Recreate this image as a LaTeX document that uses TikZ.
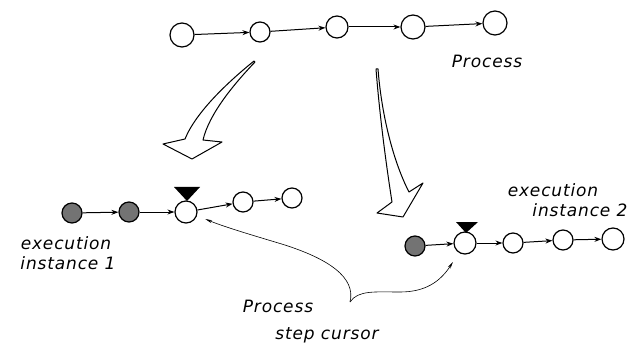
\documentclass[tikz,border=0pt]{standalone}
\usepackage{fontspec}
\newfontfamily\hand[LetterSpace=5]{DejaVu Sans}
\usetikzlibrary{arrows.meta}
\begin{document}
\begin{tikzpicture}[x=1pt,y=-1pt,
  st/.style={circle,draw,line width=1.2pt,inner sep=0pt,fill=white},
  hatched/.style={st,fill=black!55},
  conn/.style={line width=1pt,-{Stealth[length=7pt,width=5pt]}},
  bigarrow/.style={draw,line width=1pt,line join=round,fill=white},
  cursorline/.style={line width=0.6pt,-{Stealth[length=7pt,width=3pt]}},
  lbl/.style={font=\hand\itshape\fontsize{17}{19}\selectfont,inner sep=0pt},
  cursortri/.style={fill=black}]
\useasboundingbox (0,0) rectangle (644,347);
% process
\node[st,minimum size=24pt] (p1) at (182,35) {};
\node[st,minimum size=20pt] (p2) at (260,32) {};
\node[st,minimum size=22pt] (p3) at (337,27) {};
\node[st,minimum size=24pt] (p4) at (413,27) {};
\node[st,minimum size=24pt] (p5) at (495,23) {};
\draw[conn] (p1) -- (p2);
\draw[conn] (p2) -- (p3);
\draw[conn] (p3) -- (p4);
\draw[conn] (p4) -- (p5);
\node[lbl] (proc) at (487,61) {Process};
% big hollow arrows
\path[bigarrow] (254,61) .. controls (228,82) and (196,112) .. (185,139)
  -- (163,144) -- (192,159) -- (222,142) -- (203,140)
  .. controls (209,114) and (234,84) .. (255,62) -- cycle;
\path[bigarrow] (376,69) .. controls (380,120) and (387,170) .. (392,202)
  -- (377,213) -- (403,217) -- (423,183) -- (409,192)
  .. controls (395,165) and (382,120) .. (378,69) -- cycle;
% instance 1
\node[hatched,minimum size=20pt] (a1) at (72,213) {};
\node[hatched,minimum size=20pt] (a2) at (129,212) {};
\node[st,minimum size=22pt] (a3) at (186,212) {};
\node[st,minimum size=20pt] (a4) at (243,202) {};
\node[st,minimum size=20pt] (a5) at (292,198) {};
\draw[conn] (a1) -- (a2);
\draw[conn] (a2) -- (a3);
\draw[conn] (a3) -- (a4);
\draw[conn] (a4) -- (a5);
\fill[cursortri] (174,187) -- (200,187) -- (187,201) -- cycle;
\node[lbl] (e1a) at (66,243) {execution};
\node[lbl] (e1b) at (68,263) {instance 1};
% instance 2
\node[hatched,minimum size=20pt] (b1) at (415,246) {};
\node[st,minimum size=22pt] (b2) at (465,243) {};
\node[st,minimum size=20pt] (b3) at (513,243) {};
\node[st,minimum size=20pt] (b4) at (563,240) {};
\node[st,minimum size=22pt] (b5) at (613,239) {};
\draw[conn] (b1) -- (b2);
\draw[conn] (b2) -- (b3);
\draw[conn] (b3) -- (b4);
\draw[conn] (b4) -- (b5);
\fill[cursortri] (456,222) -- (478,222) -- (466,233) -- cycle;
\node[lbl] (e2a) at (553,190) {execution};
\node[lbl] (e2b) at (580,210) {instance 2};
% cursor label
\node[lbl] (c1) at (278,306) {Process};
\node[lbl] (c2) at (327,335) {step cursor};
\coordinate (brk) at (350,302);
\draw[cursorline,shorten >=9pt] (brk) .. controls (356,278) and (330,258) .. (275,242)
  .. controls (245,233) and (222,226) .. (a3.-18);
\draw[cursorline,shorten >=11pt] (brk) .. controls (358,290) and (375,292) .. (400,292)
  .. controls (425,292) and (440,282) .. (b2.-122);
\end{tikzpicture}
\end{document}
